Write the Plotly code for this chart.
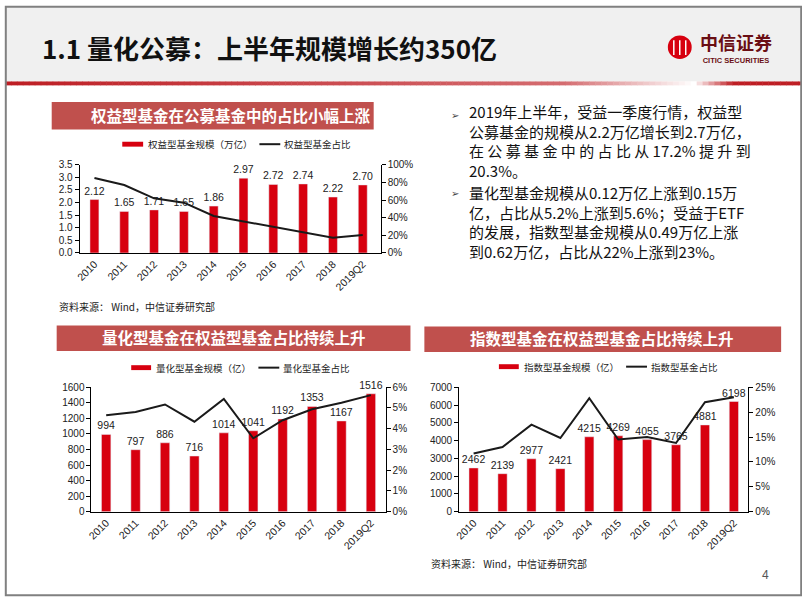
import plotly.graph_objects as go

W, H = 802, 602

# ---------------- data ----------------
years = ["2010", "2011", "2012", "2013", "2014", "2015", "2016", "2017", "2018", "2019Q2"]

equity_scale = [2.12, 1.65, 1.71, 1.65, 1.86, 2.97, 2.72, 2.74, 2.22, 2.70]          # 万亿
equity_share = [0.85, 0.77, 0.62, 0.57, 0.42, 0.36, 0.30, 0.24, 0.172, 0.203]

quant_scale = [994, 797, 886, 716, 1014, 1041, 1192, 1353, 1167, 1516]               # 亿
quant_share = [0.0465, 0.0481, 0.0517, 0.0434, 0.0544, 0.0354, 0.0441, 0.0494, 0.0525, 0.0562]

index_scale = [2462, 2139, 2977, 2421, 4215, 4269, 4055, 3765, 4881, 6198]           # 亿
index_share = [0.117, 0.130, 0.175, 0.148, 0.228, 0.145, 0.150, 0.138, 0.220, 0.230]

RED = "#D7000F"
BAND = "#C0504D"
LINE = "#1a1a1a"
CJK = "Noto Sans CJK SC"
NUM = "Liberation Sans, Arial"


def px(x):
    return x / W


def py(y):
    return 1 - y / H


fig = go.Figure()

# ---------------- traces ----------------
lblf = dict(family=NUM, size=10.5, color="#222")
fig.add_trace(go.Bar(x=years, y=equity_scale, xaxis="x", yaxis="y", marker_color=RED, width=0.3,
                     text=[f"{v:.2f}" for v in equity_scale], textposition="outside",
                     constraintext="none", cliponaxis=False, textfont=lblf))
fig.add_trace(go.Scatter(x=years, y=equity_share, xaxis="x", yaxis="y2", mode="lines",
                         line=dict(color=LINE, width=2)))

fig.add_trace(go.Bar(x=years, y=quant_scale, xaxis="x2", yaxis="y3", marker_color=RED, width=0.32,
                     text=[str(v) for v in quant_scale], textposition="outside",
                     constraintext="none", cliponaxis=False, textfont=lblf))
fig.add_trace(go.Scatter(x=years, y=quant_share, xaxis="x2", yaxis="y4", mode="lines",
                         line=dict(color=LINE, width=2)))

fig.add_trace(go.Bar(x=years, y=index_scale, xaxis="x3", yaxis="y5", marker_color=RED, width=0.32,
                     text=[str(v) for v in index_scale], textposition="outside",
                     constraintext="none", cliponaxis=False, textfont=lblf))
fig.add_trace(go.Scatter(x=years, y=index_share, xaxis="x3", yaxis="y6", mode="lines",
                         line=dict(color=LINE, width=2)))

# ---------------- axes ----------------
tickf = dict(family=NUM, size=10, color="#222")


def xax(d0, d1, anchor, rng):
    return dict(domain=[px(d0), px(d1)], anchor=anchor, type="category", range=rng,
                showline=True, linecolor="#000", linewidth=1, ticks="", tickangle=-45,
                tickfont=dict(family=NUM, size=10.5, color="#222"), showgrid=False,
                zeroline=False, fixedrange=True)


def yleft(top, bottom, anchor, rng, dtick, fmt):
    return dict(domain=[py(bottom), py(top)], anchor=anchor, range=rng, dtick=dtick,
                tickformat=fmt, showline=True, linecolor="#000", linewidth=1,
                ticks="outside", ticklen=4, tickcolor="#000", tickfont=tickf,
                showgrid=False, zeroline=False)


def yright(overlay, anchor, rng, dtick):
    return dict(overlaying=overlay, anchor=anchor, side="right", range=rng, dtick=dtick,
                tickformat=".0%", showline=True, linecolor="#000", linewidth=1,
                ticks="outside", ticklen=4, tickcolor="#000", tickfont=tickf,
                showgrid=False, zeroline=False)


fig.update_layout(
    width=W, height=H, margin=dict(l=0, r=0, t=0, b=0),
    paper_bgcolor="white", plot_bgcolor="rgba(0,0,0,0)", showlegend=False,
    xaxis=xax(75, 378, "y", [-0.5, 9.6]),
    yaxis=yleft(162, 252, "x", [0, 3.5], 0.5, ".1f"),
    yaxis2=yright("y", "x", [0, 1.0], 0.2),
    xaxis2=xax(87, 383, "y3", [-0.5, 9.5]),
    yaxis3=yleft(389, 516, "x2", [0, 1600], 200, "d"),
    yaxis4=yright("y3", "x2", [0, 0.06], 0.01),
    xaxis3=xax(457, 748, "y5", [-0.5, 9.5]),
    yaxis5=yleft(389, 516, "x3", [0, 7000], 1000, "d"),
    yaxis6=yright("y5", "x3", [0, 0.25], 0.05),
)

shapes = []
ann = []


def rect(x0, y0, x1, y1, color, line=None):
    shapes.append(dict(type="rect", xref="paper", yref="paper", x0=px(x0), x1=px(x1),
                       y0=py(y1), y1=py(y0), fillcolor=color,
                       line=dict(width=0) if line is None else line, layer="below"))


def text(x, y, s, size, color="#000", family=CJK, xanchor="left", bold=False, align="left"):
    if bold:
        s = "<b>" + s + "</b>"
    ann.append(dict(x=px(x), y=py(y), xref="paper", yref="paper", text=s, showarrow=False,
                    xanchor=xanchor, yanchor="middle", align=align,
                    font=dict(family=family, size=size, color=color)))


# header background
rect(0, 0, 802, 77, "#F0F0F0")
# red gradient rule under header
step = 6
for x in range(0, 802, step):
    if x < 560:
        t = x / 560 * 0.35
    elif x < 690:
        t = 0.35 + (x - 560) / 130 * 0.65
    elif x < 730:
        t = 1 - (x - 690) / 40
    else:
        t = 0
    c0, c1 = (190, 30, 36), (255, 255, 255)
    col = tuple(int(c0[i] + (c1[i] - c0[i]) * t) for i in range(3))
    rect(x, 77, x + step + 0.5, 81, "rgb(%d,%d,%d)" % col)

# slide frame
shapes.append(dict(type="rect", xref="paper", yref="paper", x0=px(0.8), x1=px(801.2), y0=py(601.2), y1=py(0.8),
                   line=dict(color="#808080", width=2), fillcolor="rgba(0,0,0,0)", layer="above"))

# title
text(35, 42, "1.1 量化公募：上半年规模增长约350亿", 26, "#111", bold=True)

# logo
shapes.append(dict(type="circle", xref="paper", yref="paper", x0=px(667), x1=px(691), y0=py(54), y1=py(30),
                   fillcolor="#D7000F", line=dict(width=0)))
for lx in (673, 679, 685):
    shapes.append(dict(type="line", xref="paper", yref="paper", x0=px(lx), x1=px(lx), y0=py(50), y1=py(35),
                       line=dict(color="white", width=1.5)))
text(736, 42,
     "<span style='font-size:18px'><b>中信证券</b></span><br>"
     "<span style='font-size:7.5px;font-family:Liberation Sans'><b>CITIC SECURITIES</b></span>",
     10, "#6A0E14", xanchor="center", align="center")

# chart header bands
rect(47, 98, 371, 126, BAND)
text(227, 111, "权益型基金在公募基金中的占比小幅上涨", 15.5, "white", xanchor="center", bold=True)
rect(52, 326, 408, 352, BAND)
text(230, 338, "量化型基金在权益型基金占比持续上升", 15.5, "white", xanchor="center", bold=True)
rect(422, 327, 781, 353, BAND)
text(601, 339, "指数型基金在权益型基金占比持续上升", 15.5, "white", xanchor="center", bold=True)


# legends
def legend(y, rx0, rx1, t1, lx0, lx1, t2):
    rect(rx0, y - 2.5, rx1, y + 2.5, RED)
    text(rx1 + 3, y, t1, 9.5, "#222")
    shapes.append(dict(type="line", xref="paper", yref="paper", x0=px(lx0), x1=px(lx1), y0=py(y), y1=py(y),
                       line=dict(color=LINE, width=2)))
    text(lx1 + 2, y, t2, 9.5, "#222")


legend(141, 118, 139, "权益型基金规模（万亿）", 256, 277, "权益型基金占比")
legend(369, 127, 147, "量化型基金规模（亿）", 255, 276, "量化型基金占比")
legend(368, 497, 517, "指数型基金规模（亿）", 625, 646, "指数型基金占比")

# sources
text(52, 307, "资料来源： Wind，中信证券研究部", 10, "#222")
text(427, 569, "资料来源： Wind，中信证券研究部", 10, "#222")
text(765, 581, "4", 12, "#555", family=NUM, xanchor="center")

# bullet text
lines1 = ["2019年上半年，受益一季度行情，权益型",
          "公募基金的规模从2.2万亿增长到2.7万亿，",
          "在 公 募 基 金 中 的 占 比 从 17.2% 提 升 到",
          "20.3%。"]
lines2 = ["量化型基金规模从0.12万亿上涨到0.15万",
          "亿，占比从5.2%上涨到5.6%；受益于ETF",
          "的发展，指数型基金规模从0.49万亿上涨",
          "到0.62万亿，占比从22%上涨到23%。"]
text(465, 138, "<br>".join(lines1), 15, "#111")
text(465, 220, "<br>".join(lines2), 15, "#111")
text(453, 112, "➢", 10, "#444", family="DejaVu Sans", xanchor="center")
text(453, 191, "➢", 10, "#444", family="DejaVu Sans", xanchor="center")

fig.update_layout(shapes=shapes, annotations=ann)
fig.write_html(
    "out.html",
    config={"displayModeBar": False},
    post_script="document.body.style.margin='0px';document.body.style.padding='0px';"
                "document.documentElement.style.overflow='hidden';",
)
